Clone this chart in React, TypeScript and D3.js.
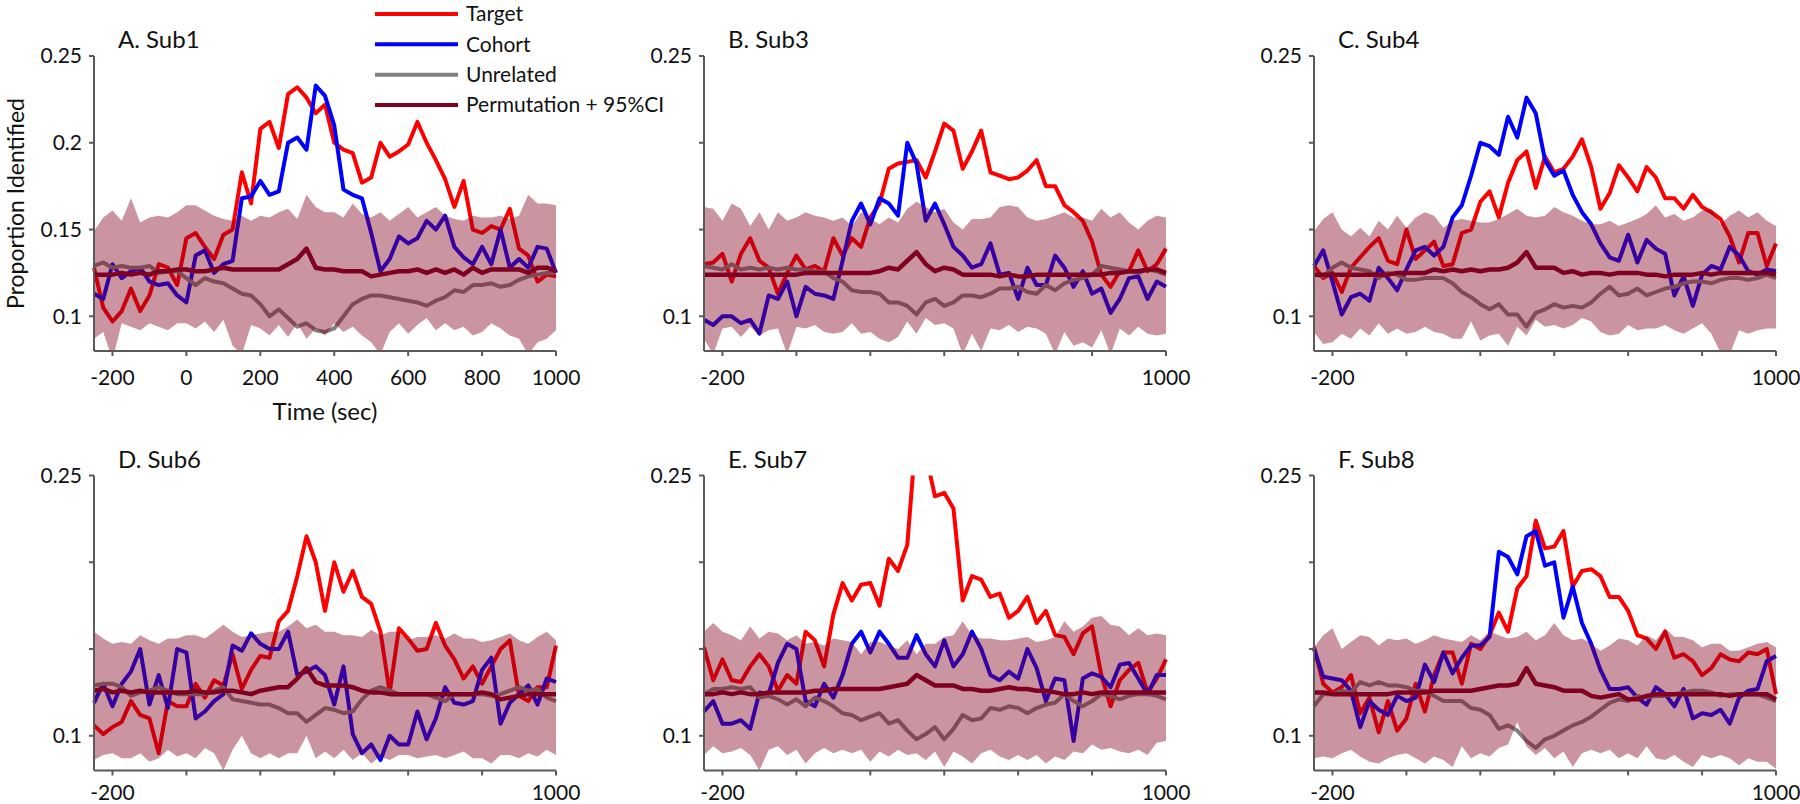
import React, { useEffect } from "react";
import * as d3 from "d3";

// time grid (ms) shared by every series
const time = d3.range(-250, 1001, 25);

const seriesNames = ["Target", "Cohort", "Unrelated", "Permutation + 95%CI"];
const seriesColors = ["#ff0000", "#0000ff", "#808080", "#800020"];
const panelTitles = ["A. Sub1", "B. Sub3", "C. Sub4", "D. Sub6", "E. Sub7", "F. Sub8"];
const xTicks = [-200, 0, 200, 400, 600, 800, 1000];
const yTicks = [0.1, 0.15, 0.2, 0.25];

// Sub1
const sub1Target = [.128,.105,.097,.103,.116,.103,.112,.13,.128,.118,.145,.148,.14,.133,.147,.15,.183,.165,.208,.212,.197,.228,.232,.226,.217,.222,.2,.196,.194,.177,.18,.2,.192,.195,.199,.212,.2,.19,.179,.163,.178,.15,.148,.152,.15,.162,.139,.135,.12,.124,.123];
const sub1Cohort = [.113,.11,.13,.122,.126,.128,.12,.118,.119,.112,.108,.135,.138,.125,.13,.132,.168,.169,.178,.17,.172,.2,.203,.196,.233,.227,.21,.173,.17,.168,.148,.126,.133,.146,.142,.145,.155,.15,.158,.14,.134,.13,.14,.13,.15,.128,.133,.128,.14,.139,.125];
const sub1Unrelated = [.129,.131,.128,.129,.128,.128,.129,.125,.126,.126,.122,.118,.122,.12,.119,.116,.113,.112,.107,.1,.104,.099,.094,.096,.092,.091,.093,.1,.107,.11,.112,.112,.111,.11,.109,.108,.106,.109,.111,.115,.114,.118,.118,.119,.117,.118,.121,.123,.124,.125,.125];
const sub1Perm = [.124,.124,.124,.125,.124,.125,.124,.126,.126,.127,.127,.126,.126,.127,.128,.127,.127,.127,.127,.127,.127,.13,.133,.139,.128,.127,.127,.126,.126,.126,.123,.124,.125,.126,.126,.127,.125,.127,.125,.127,.124,.128,.125,.127,.127,.127,.127,.125,.128,.128,.126];
const sub1Upper = [.149,.157,.161,.155,.168,.154,.157,.158,.157,.16,.164,.164,.161,.158,.156,.155,.158,.155,.158,.157,.16,.162,.156,.17,.163,.16,.16,.157,.165,.159,.157,.16,.155,.159,.163,.157,.16,.163,.158,.156,.155,.158,.157,.157,.158,.156,.158,.17,.165,.165,.164];
const sub1Lower = [.087,.091,.075,.096,.094,.092,.096,.094,.092,.096,.096,.093,.097,.091,.098,.083,.078,.095,.093,.089,.095,.088,.096,.087,.093,.089,.096,.091,.094,.089,.085,.078,.091,.096,.09,.095,.099,.092,.096,.092,.094,.089,.091,.096,.093,.089,.087,.078,.085,.087,.092];

// Sub3
const sub3Target = [.13,.131,.136,.12,.136,.145,.132,.128,.113,.125,.135,.127,.129,.126,.145,.135,.145,.14,.157,.165,.185,.188,.189,.19,.18,.195,.211,.207,.185,.195,.207,.183,.181,.179,.18,.184,.19,.175,.175,.164,.16,.155,.143,.124,.117,.126,.126,.138,.126,.13,.139];
const sub3Cohort = [.098,.095,.1,.1,.096,.098,.09,.112,.11,.12,.1,.117,.113,.112,.11,.132,.155,.165,.153,.168,.165,.158,.2,.188,.155,.165,.153,.14,.135,.128,.13,.142,.124,.125,.11,.128,.118,.118,.135,.128,.117,.126,.113,.116,.102,.11,.122,.123,.11,.12,.117];
const sub3Unrelated = [.129,.128,.127,.13,.127,.128,.127,.128,.127,.128,.127,.127,.126,.126,.122,.12,.115,.114,.114,.113,.108,.108,.106,.101,.108,.11,.106,.108,.112,.112,.111,.113,.116,.116,.117,.114,.113,.118,.115,.119,.121,.122,.124,.129,.128,.127,.126,.125,.127,.126,.124];
const sub3Perm = [.124,.124,.124,.124,.124,.124,.124,.124,.124,.124,.124,.125,.125,.125,.125,.125,.125,.125,.125,.126,.128,.127,.132,.137,.13,.126,.128,.127,.124,.124,.124,.124,.123,.124,.123,.123,.124,.124,.124,.124,.124,.124,.124,.124,.125,.125,.126,.126,.127,.127,.125];
const sub3Upper = [.163,.162,.155,.165,.162,.152,.16,.15,.16,.155,.157,.16,.158,.157,.155,.157,.152,.16,.156,.153,.157,.154,.162,.166,.163,.16,.162,.154,.15,.156,.156,.157,.163,.164,.163,.157,.155,.156,.158,.16,.157,.157,.155,.162,.157,.16,.154,.15,.155,.158,.157];
const sub3Lower = [.087,.078,.093,.094,.088,.094,.089,.092,.093,.078,.094,.093,.095,.091,.09,.091,.096,.09,.091,.087,.085,.088,.097,.09,.099,.095,.096,.093,.078,.09,.08,.093,.092,.095,.091,.094,.093,.09,.078,.091,.083,.085,.082,.092,.078,.093,.089,.094,.09,.089,.09];

// Sub4
const sub4Target = [.129,.122,.125,.114,.128,.134,.14,.145,.132,.13,.15,.133,.138,.143,.129,.13,.148,.15,.166,.172,.157,.177,.19,.195,.174,.192,.183,.185,.192,.202,.186,.162,.171,.187,.18,.172,.186,.18,.168,.168,.162,.17,.163,.16,.156,.146,.131,.148,.148,.129,.142];
const sub4Cohort = [.129,.138,.12,.101,.111,.113,.109,.128,.122,.115,.127,.138,.14,.135,.14,.157,.164,.181,.2,.198,.193,.215,.203,.226,.217,.19,.181,.184,.17,.16,.153,.142,.134,.132,.147,.131,.144,.139,.136,.112,.123,.106,.124,.129,.127,.14,.135,.126,.124,.127,.126];
const sub4Unrelated = [.124,.123,.128,.131,.128,.127,.126,.122,.125,.124,.121,.121,.122,.122,.122,.119,.114,.111,.107,.104,.107,.101,.101,.094,.102,.104,.107,.105,.106,.105,.108,.113,.117,.112,.113,.116,.112,.114,.116,.117,.119,.12,.12,.119,.121,.122,.122,.121,.122,.124,.122];
const sub4Perm = [.124,.124,.124,.124,.124,.124,.124,.124,.124,.125,.125,.125,.125,.127,.126,.127,.126,.127,.126,.127,.127,.128,.131,.137,.128,.128,.128,.125,.126,.124,.125,.125,.124,.125,.125,.125,.124,.124,.123,.124,.124,.124,.125,.124,.125,.125,.125,.125,.125,.125,.124];
const sub4Upper = [.149,.156,.16,.15,.146,.151,.146,.155,.15,.158,.151,.157,.16,.158,.151,.155,.156,.155,.154,.154,.156,.159,.162,.158,.157,.158,.163,.16,.158,.155,.153,.153,.155,.152,.154,.156,.159,.164,.157,.159,.155,.157,.161,.162,.153,.158,.161,.157,.16,.155,.152];
const sub4Lower = [.091,.084,.085,.09,.087,.093,.089,.096,.09,.093,.09,.091,.094,.091,.09,.087,.087,.097,.086,.089,.09,.083,.094,.089,.098,.094,.095,.093,.095,.099,.097,.091,.089,.09,.095,.092,.093,.093,.095,.092,.09,.093,.096,.09,.079,.078,.092,.09,.092,.093,.093];

// Sub6
const sub6Target = [.106,.101,.105,.108,.12,.112,.11,.09,.12,.117,.117,.13,.122,.132,.129,.147,.127,.138,.146,.145,.166,.172,.192,.215,.2,.172,.2,.183,.195,.18,.176,.16,.125,.162,.156,.149,.15,.165,.152,.144,.133,.14,.13,.14,.15,.155,.123,.12,.128,.128,.152];
const sub6Cohort = [.119,.13,.117,.13,.137,.15,.118,.135,.116,.15,.148,.11,.114,.12,.124,.152,.149,.159,.153,.15,.15,.16,.135,.137,.14,.135,.118,.14,.101,.09,.095,.086,.1,.095,.095,.114,.098,.11,.128,.119,.118,.12,.138,.145,.107,.119,.124,.129,.118,.133,.131];
const sub6Unrelated = [.129,.13,.13,.128,.123,.125,.126,.128,.126,.124,.124,.124,.124,.126,.128,.121,.12,.119,.118,.118,.116,.113,.113,.108,.112,.116,.115,.113,.114,.121,.126,.128,.126,.124,.124,.124,.124,.122,.12,.124,.124,.124,.124,.123,.124,.126,.128,.126,.127,.122,.12];
const sub6Perm = [.126,.127,.125,.126,.125,.126,.125,.125,.125,.125,.125,.126,.125,.125,.126,.126,.125,.124,.126,.127,.128,.128,.133,.139,.131,.129,.129,.129,.128,.126,.125,.125,.124,.124,.124,.124,.124,.124,.124,.124,.124,.124,.125,.124,.121,.122,.123,.124,.124,.124,.124];
const sub6Upper = [.16,.156,.153,.154,.153,.158,.155,.153,.156,.156,.158,.158,.156,.16,.164,.16,.157,.158,.159,.16,.16,.163,.167,.162,.164,.16,.16,.158,.158,.157,.161,.158,.16,.16,.155,.157,.157,.158,.156,.159,.156,.156,.154,.155,.157,.159,.155,.153,.157,.16,.155];
const sub6Lower = [.086,.089,.09,.087,.087,.09,.085,.087,.092,.088,.09,.087,.093,.09,.08,.092,.1,.09,.087,.09,.087,.09,.09,.1,.087,.091,.087,.092,.086,.09,.084,.088,.086,.089,.089,.087,.088,.089,.087,.089,.091,.087,.087,.084,.089,.089,.087,.09,.088,.092,.089];

// Sub7
const sub7Target = [.151,.132,.144,.132,.131,.14,.147,.14,.126,.135,.13,.16,.155,.14,.17,.188,.178,.187,.188,.175,.202,.195,.21,.277,.262,.238,.24,.231,.178,.192,.19,.18,.182,.168,.172,.18,.165,.172,.158,.157,.147,.159,.163,.135,.117,.132,.138,.142,.125,.133,.144];
const sub7Cohort = [.114,.12,.107,.107,.109,.104,.125,.124,.142,.153,.15,.12,.117,.13,.122,.135,.153,.16,.148,.16,.153,.145,.145,.158,.147,.14,.155,.14,.147,.16,.15,.135,.132,.137,.133,.15,.139,.12,.133,.132,.097,.133,.136,.134,.128,.141,.142,.133,.124,.135,.135];
const sub7Unrelated = [.124,.127,.127,.128,.127,.128,.122,.123,.121,.118,.121,.117,.122,.12,.117,.113,.112,.109,.111,.113,.107,.109,.103,.098,.101,.105,.098,.104,.112,.109,.11,.116,.115,.117,.116,.113,.116,.118,.119,.124,.12,.117,.12,.124,.123,.121,.123,.124,.124,.123,.121];
const sub7Perm = [.124,.124,.125,.124,.125,.124,.124,.125,.125,.125,.125,.125,.126,.126,.127,.127,.127,.127,.127,.127,.128,.129,.13,.135,.132,.129,.129,.129,.127,.127,.126,.126,.127,.128,.127,.127,.126,.126,.125,.124,.124,.125,.124,.125,.125,.125,.125,.125,.125,.125,.125];
const sub7Upper = [.16,.165,.16,.158,.155,.163,.156,.16,.159,.155,.158,.153,.154,.152,.156,.155,.154,.147,.154,.154,.152,.15,.155,.147,.153,.153,.157,.158,.166,.158,.156,.156,.155,.155,.156,.157,.154,.155,.157,.166,.16,.163,.168,.169,.164,.163,.158,.162,.158,.159,.158];
const sub7Lower = [.089,.094,.09,.091,.093,.089,.08,.092,.094,.089,.092,.084,.09,.093,.09,.092,.09,.092,.085,.091,.088,.092,.089,.09,.086,.091,.082,.091,.088,.084,.09,.092,.088,.086,.089,.086,.089,.084,.088,.086,.091,.09,.095,.092,.093,.091,.09,.092,.089,.096,.097];

// Sub8
const sub8Target = [.151,.13,.125,.128,.135,.113,.122,.102,.12,.103,.11,.13,.114,.135,.148,.148,.13,.153,.15,.158,.171,.16,.185,.192,.224,.208,.209,.218,.186,.195,.196,.192,.18,.18,.172,.158,.156,.15,.16,.145,.147,.143,.135,.139,.147,.144,.143,.148,.147,.15,.124];
const sub8Cohort = [.15,.134,.133,.132,.126,.105,.12,.115,.112,.123,.12,.122,.141,.131,.148,.136,.145,.152,.152,.157,.206,.203,.193,.215,.218,.198,.2,.168,.186,.165,.153,.138,.127,.127,.128,.122,.118,.128,.124,.117,.127,.11,.113,.112,.115,.107,.122,.126,.127,.143,.146];
const sub8Unrelated = [.117,.124,.124,.126,.125,.131,.129,.131,.129,.129,.128,.126,.126,.123,.12,.12,.12,.116,.115,.112,.104,.106,.103,.097,.093,.098,.1,.103,.106,.108,.111,.115,.119,.121,.12,.123,.122,.123,.123,.124,.125,.126,.126,.125,.123,.124,.124,.124,.124,.122,.12];
const sub8Perm = [.125,.125,.124,.124,.124,.124,.124,.124,.124,.125,.125,.125,.125,.126,.126,.126,.126,.126,.127,.128,.129,.129,.13,.139,.13,.129,.128,.126,.126,.126,.123,.122,.123,.124,.121,.121,.123,.124,.124,.124,.124,.124,.124,.124,.124,.123,.124,.124,.124,.124,.121];
const sub8Upper = [.151,.158,.162,.15,.154,.158,.157,.152,.156,.155,.156,.153,.155,.158,.156,.155,.154,.158,.155,.16,.158,.156,.157,.16,.155,.158,.165,.158,.155,.156,.153,.149,.152,.156,.155,.152,.158,.155,.162,.157,.157,.155,.151,.153,.153,.149,.149,.151,.153,.154,.151];
const sub8Lower = [.087,.088,.087,.09,.092,.088,.085,.084,.087,.089,.09,.087,.084,.088,.086,.082,.094,.087,.09,.088,.093,.095,.108,.094,.089,.093,.087,.091,.082,.09,.092,.09,.092,.087,.09,.087,.094,.087,.086,.089,.085,.082,.089,.087,.089,.087,.083,.087,.085,.085,.081];

const panels = [
  { target: sub1Target, cohort: sub1Cohort, unrelated: sub1Unrelated, perm: sub1Perm, upper: sub1Upper, lower: sub1Lower },
  { target: sub3Target, cohort: sub3Cohort, unrelated: sub3Unrelated, perm: sub3Perm, upper: sub3Upper, lower: sub3Lower },
  { target: sub4Target, cohort: sub4Cohort, unrelated: sub4Unrelated, perm: sub4Perm, upper: sub4Upper, lower: sub4Lower },
  { target: sub6Target, cohort: sub6Cohort, unrelated: sub6Unrelated, perm: sub6Perm, upper: sub6Upper, lower: sub6Lower },
  { target: sub7Target, cohort: sub7Cohort, unrelated: sub7Unrelated, perm: sub7Perm, upper: sub7Upper, lower: sub7Lower },
  { target: sub8Target, cohort: sub8Cohort, unrelated: sub8Unrelated, perm: sub8Perm, upper: sub8Upper, lower: sub8Lower },
];

const width = 1800;
const height = 804;
const plotW = 462;
const plotH = 295;
const colX = [94, 704, 1314];
const rowY = [56, 475.5];
const tickLabelOffset = [34, 29]; // bottom row sits against the page edge
const font = "Lato, 'Open Sans', sans-serif";
const axisColor = "#595959";

function Panel({ p, i }: { p: any; i: number }) {
  const x = d3.scaleLinear().domain([-250, 1000]).range([0, plotW]);
  const y = d3.scaleLinear().domain([0.08, 0.25]).range([plotH, 0]);
  const line = d3.line<number>().x((_, k) => x(time[k])).y(d => y(d));
  const band = d3.area<number>()
    .x((_, k) => x(time[k]))
    .y0((_, k) => y(p.lower[k]))
    .y1(d => y(d));
  const first = i === 0;
  const row = Math.floor(i / 3);
  const clipId = `clip-${i}`;

  return (
    <g transform={`translate(${colX[i % 3]},${rowY[row]})`}>
      <defs>
        <clipPath id={clipId}>
          <rect x={-2} y={0} width={plotW + 4} height={plotH} />
        </clipPath>
      </defs>
      <text x={24} y={-8} fontSize={24} fill="#111">{panelTitles[i]}</text>

      <g clipPath={`url(#${clipId})`} fill="none" strokeLinejoin="round">
        <path d={line(p.target) ?? ""} stroke={seriesColors[0]} strokeWidth={4} />
        <path d={line(p.cohort) ?? ""} stroke={seriesColors[1]} strokeWidth={4} />
        <path d={line(p.unrelated) ?? ""} stroke={seriesColors[2]} strokeWidth={4} />
        <path d={band(p.upper) ?? ""} fill={seriesColors[3]} fillOpacity={0.42} stroke="none" />
        <path d={line(p.perm) ?? ""} stroke={seriesColors[3]} strokeWidth={4.5} />
      </g>

      {/* y axis */}
      <line x1={0} x2={0} y1={0} y2={plotH} stroke={axisColor} strokeWidth={2} />
      {yTicks.map(t => (
        <g key={t} transform={`translate(0,${y(t)})`}>
          <line x1={-5} x2={0} stroke={axisColor} strokeWidth={2} />
          {(first || t === 0.25 || t === 0.1) && (
            <text x={-12} dy="0.35em" textAnchor="end" fontSize={21} fill="#111">{String(t)}</text>
          )}
        </g>
      ))}

      {/* x axis */}
      <line x1={0} x2={plotW} y1={plotH} y2={plotH} stroke={axisColor} strokeWidth={2} />
      {xTicks.map(t => (
        <g key={t} transform={`translate(${x(t)},${plotH})`}>
          <line y1={0} y2={5} stroke={axisColor} strokeWidth={2} />
          {(first || t === -200 || t === 1000) && (
            <text y={tickLabelOffset[row]} textAnchor="middle" fontSize={21} fill="#111">{String(t)}</text>
          )}
        </g>
      ))}

      {first && (
        <>
          <text x={plotW / 2} y={plotH + 69} textAnchor="middle" fontSize={24} fill="#111">Time (sec)</text>
          <text transform={`translate(-70,${plotH / 2}) rotate(-90)`} textAnchor="middle" fontSize={23} fill="#111">
            Proportion Identified
          </text>
        </>
      )}
    </g>
  );
}

function Legend() {
  const rows = d3.scalePoint<string>().domain(seriesNames).range([14, 105]);
  return (
    <g>
      {seriesNames.map((name, k) => (
        <g key={name} transform={`translate(375,${rows(name)})`}>
          <line x1={0} x2={83} stroke={seriesColors[k]} strokeWidth={4} />
          <text x={91} dy="0.35em" fontSize={21} fill="#111">{name}</text>
        </g>
      ))}
    </g>
  );
}

export default function App() {
  useEffect(() => {
    document.body.style.margin = "0";
  }, []);
  return (
    <svg width={width} height={height} style={{ display: "block", background: "#fff" }} fontFamily={font}>
      <rect width={width} height={height} fill="#fff" />
      {panels.map((p, i) => (
        <Panel key={i} p={p} i={i} />
      ))}
      <Legend />
    </svg>
  );
}
